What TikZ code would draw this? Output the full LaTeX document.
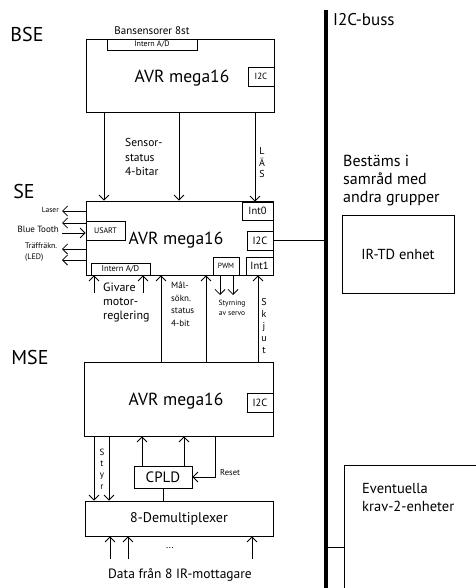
\documentclass[tikz,border=0pt]{standalone}
\usepackage{fontspec}
\setmainfont{PT Sans}
\usetikzlibrary{arrows.meta}
\tikzset{
  box/.style={draw, line width=0.8pt, inner sep=0pt},
  lab/.style={inner sep=0pt, font=\fontsize{#1}{#1}\selectfont},
  mlab/.style 2 args={inner sep=0pt, align=left, font=\fontsize{#1}{#2}\selectfont},
  clab/.style 2 args={inner sep=0pt, align=center, font=\fontsize{#1}{#2}\selectfont},
  ln/.style={line width=0.8pt},
  arr/.style={line width=0.8pt, -{Straight Barb[length=5pt,width=10pt,line width=0.8pt]}},
}
\begin{document}
\begin{tikzpicture}[x=1pt,y=-1pt]
\useasboundingbox (0,0) rectangle (475,588);

% ---------- main boxes ----------
\node[box, minimum width=188pt, minimum height=73pt] (bse) at (180,75.5) {};
\node[box, minimum width=187pt, minimum height=74pt] (se) at (179.5,238) {};
\node[box, minimum width=189pt, minimum height=74pt] (mse) at (178.5,399) {};
\node[box, minimum width=188pt, minimum height=35pt] (demux) at (179,518.5) {};
\node[box, minimum width=58pt, minimum height=22pt] (cpld) at (163,477) {};
\node[box, minimum width=112pt, minimum height=78pt] (irtd) at (398,254) {};
\node[box, minimum width=140pt, minimum height=130pt, anchor=north west] (ev) at (344,465) {};

% ---------- sub boxes ----------
\node[box, minimum width=90pt, minimum height=11pt] (bad) at (152,44.5) {};
\node[box, minimum width=26pt, minimum height=19pt] (bi2c) at (261,76.5) {};
\node[box, minimum width=31pt, minimum height=18pt] (int0) at (257.5,211) {};
\node[box, minimum width=26pt, minimum height=19pt] (si2c) at (260,240.5) {};
\node[box, minimum width=27pt, minimum height=18pt] (int1) at (259.5,266) {};
\node[box, minimum width=26pt, minimum height=18pt] (pwm) at (226,266) {};
\node[box, minimum width=39pt, minimum height=19pt] (usart) at (105.5,230.5) {};
\node[box, minimum width=59pt, minimum height=12pt] (sad) at (120.5,269) {};
\node[box, minimum width=26pt, minimum height=19pt] (mi2c) at (260,402.5) {};

% ---------- texts in boxes ----------
\node[lab=17.5] at (182,78) {AVR mega16};
\node[lab=17.5] at (176,240) {AVR mega16};
\node[lab=17.5] at (176,401) {AVR mega16};
\node[lab=8] at (bad) {Intern A/D};
\node[lab=8.5] at (sad) {Intern A/D};
\node[lab=9] at (bi2c) {I2C};
\node[lab=10.5] at (si2c) {I2C};
\node[lab=10.5] at (mi2c) {I2C};
\node[lab=10.5] at (int0) {Int0};
\node[lab=10.5] at (int1) {Int1};
\node[lab=7.5] at (pwm) {PWM};
\node[lab=8] at (usart) {USART};
\node[lab=15] at (cpld) {CPLD};
\node[lab=14] at (demux) {8-Demultiplexer};
\node[lab=14.5] at (irtd) {IR-TD enhet};
\node[mlab={14.5}{18.5}, anchor=west] at (362,497.5) {Eventuella\\krav-2-enheter};

% ---------- side labels ----------
\node[lab=20] at (27,35) {BSE};
\node[lab=20] at (24,191) {SE};
\node[lab=20] at (30,357) {MSE};
\node[lab=11] at (152,31) {Bansensorer 8st};
\node[lab=17, anchor=west] at (333,20) {I2C-buss};
\node[mlab={16}{18}, anchor=west] at (343,181) {Bestäms i\\samråd med\\andra grupper};

% ---------- BSE -> SE ----------
\draw[arr] (104,0 |- bse.south) -- (104,0 |- se.north);
\draw[arr] (179,0 |- bse.south) -- (179,0 |- se.north);
\draw[arr] (255,0 |- bse.south) -- (255,0 |- int0.north);
\node[mlab={11.5}{14.5}, anchor=west] at (125,157) {Sensor-\\status\\4-bitar};
\node[clab={10}{11.5}] at (262,163) {L\\Ä\\S};

% ---------- SE left side ----------
\coordinate (lx) at (62,0);
\draw[arr] (se.west |- 0,211) -- (lx |- 0,211);
\draw[arr] (usart.west |- 0,223) -- (lx |- 0,223);
\draw[arr] (lx |- 0,233) -- (usart.west |- 0,233);
\draw[arr] (se.west |- 0,249) -- (lx |- 0,249);
\draw[arr] (se.west |- 0,260) -- (lx |- 0,260);
\node[lab=7.5, anchor=east] at (59,210) {Laser};
\node[lab=9, anchor=east] at (59,229) {Blue Tooth};
\node[mlab={8}{11}, anchor=west] at (25,252.5) {Träffräkn.\\(LED)};

% ---------- SE bottom ----------
\coordinate (gb) at (0,293);
\draw[arr] (94,0 |- gb) -- (94,0 |- sad.south);
\draw[arr] (143,0 |- gb) -- (143,0 |- sad.south);
\node[mlab={12}{14}, anchor=west] at (103,302) {Givare\\motor-\\reglering};
\draw[arr] (161,0 |- mse.north) -- (161,0 |- se.south);
\draw[arr] (206,0 |- mse.north) -- (206,0 |- se.south);
\node[mlab={9}{12.5}, anchor=west] at (171,304) {Mål-\\sökn.\\status\\4-bit};
\coordinate (pb) at (0,295);
\draw[arr] (220,0 |- pwm.south) -- (220,0 |- pb);
\draw[arr] (233,0 |- pwm.south) -- (233,0 |- pb);
\node[clab={7.5}{10}] at (232,308) {Styrning\\av servo};
\draw[arr] (258,0 |- mse.north) -- (258,0 |- int1.south);
\node[clab={10}{12}] at (264,326) {S\\k\\j\\u\\t};

% ---------- MSE bottom ----------
\draw[arr] (94,0 |- mse.south) -- (94,0 |- demux.north);
\draw[arr] (109,0 |- mse.south) -- (109,0 |- demux.north);
\node[clab={9}{11.3}] at (102,469) {S\\t\\y\\r};
\draw[arr] (142,0 |- cpld.north) -- (142,0 |- mse.south);
\draw[arr] (184,0 |- cpld.north) -- (184,0 |- mse.south);
\draw[arr] (215,0 |- mse.south) |- (cpld.east);
\node[lab=8.5, anchor=west] at (220,473) {Reset};
\draw[ln] (cpld.south) -- (cpld.south |- demux.north);

% ---------- demux inputs ----------
\coordinate (db) at (0,559);
\draw[arr] (110,0 |- db) -- (110,0 |- demux.south);
\draw[arr] (128,0 |- db) -- (128,0 |- demux.south);
\draw[arr] (252,0 |- db) -- (252,0 |- demux.south);
\node[lab=10] at (170,548) {...};
\node[lab=13.5] at (180,575) {Data från 8 IR-mottagare};

% ---------- I2C bus ----------
\coordinate (bt) at (326,10);
\coordinate (bb) at (326,590);
\draw[line width=3.2pt] (bt) -- (bb);
\draw[ln] (si2c.east) -- (si2c.east -| bt);
\draw[ln] (bt |- 0,547) -- (ev.west |- 0,547);
\end{tikzpicture}
\end{document}
